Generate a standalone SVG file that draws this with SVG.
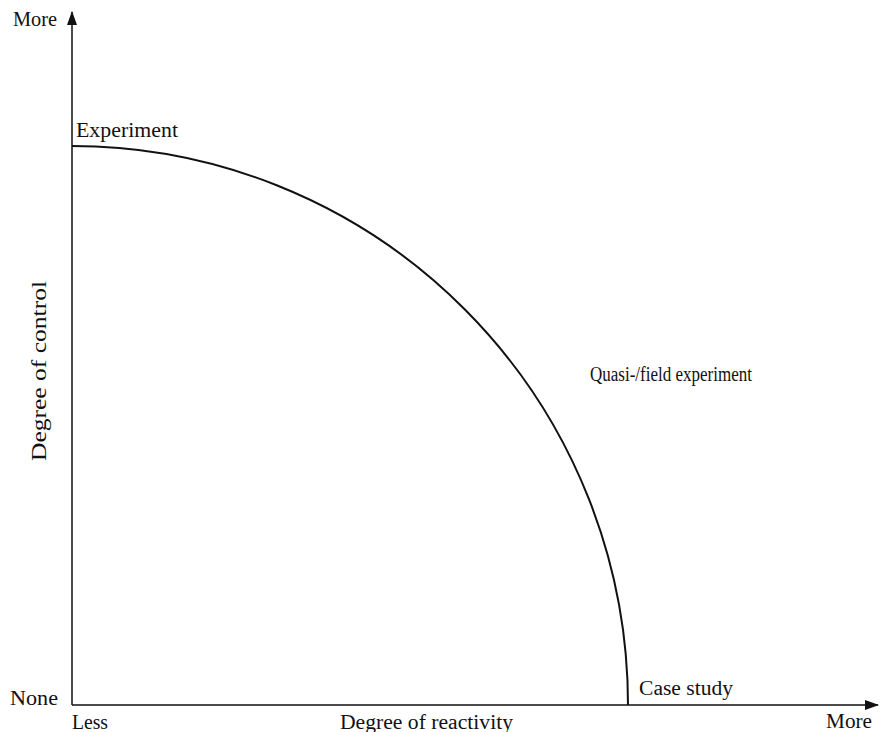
<svg xmlns="http://www.w3.org/2000/svg" width="887" height="732" viewBox="0 0 887 732">
<style>
text{font-family:"Liberation Serif","Times New Roman",serif;font-size:20px;fill:#111}
.ax{stroke:#111;stroke-width:1.5;fill:none}
.cv{stroke:#111;stroke-width:2;fill:none}
</style>
<defs>
<marker id="ah" viewBox="0 0 14 10" refX="13" refY="5" markerWidth="14" markerHeight="10" markerUnits="userSpaceOnUse" orient="auto">
<path d="M0,0 L14,5 L0,10 Z" fill="#111"/>
</marker>
</defs>
<g id="connectors">
<line id="y-axis" class="ax" x1="72" y1="705" x2="72" y2="12" marker-end="url(#ah)"/>
<line id="x-axis" class="ax" x1="72" y1="705" x2="878" y2="705" marker-end="url(#ah)"/>
<path id="curve" class="cv" d="M72,146 A556,559 0 0 1 628,705"/>
</g>
<g id="axis-labels">
<text x="13" y="26" textLength="44" lengthAdjust="spacingAndGlyphs">More</text>
<text x="10" y="705" textLength="48" lengthAdjust="spacingAndGlyphs">None</text>
<text x="72" y="729" textLength="36" lengthAdjust="spacingAndGlyphs">Less</text>
<text x="340" y="729" textLength="173" lengthAdjust="spacingAndGlyphs">Degree of reactivity</text>
<text x="826" y="728" textLength="46" lengthAdjust="spacingAndGlyphs">More</text>
<text transform="translate(46,461) rotate(-90)" textLength="180" lengthAdjust="spacingAndGlyphs">Degree of control</text>
</g>
<g id="node-experiment"><text x="76" y="137" textLength="102" lengthAdjust="spacingAndGlyphs">Experiment</text></g>
<g id="node-quasi"><text x="590" y="381" textLength="162" lengthAdjust="spacingAndGlyphs">Quasi-/field experiment</text></g>
<g id="node-case"><text x="639" y="695" textLength="94" lengthAdjust="spacingAndGlyphs">Case study</text></g>
</svg>
